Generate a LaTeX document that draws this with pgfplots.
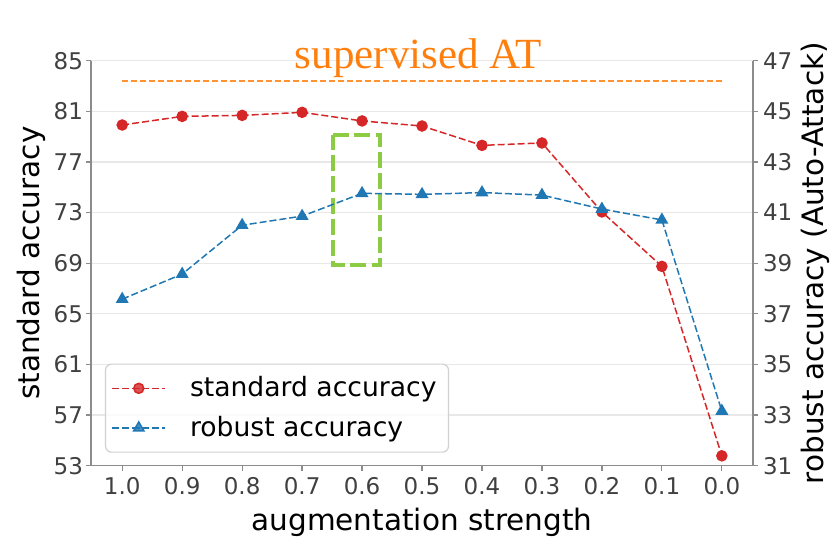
\documentclass[border=0pt]{standalone}
\usepackage{fontspec}
\setmainfont{DejaVu Sans}
\newfontfamily\seriffont{Liberation Serif}
\usepackage{pgfplots}
\pgfplotsset{compat=1.18}
\definecolor{tred}{HTML}{D62728}
\definecolor{tblue}{HTML}{1F77B4}
\definecolor{torange}{HTML}{FF7F0E}
\definecolor{tgreen}{HTML}{8CCC44}
\definecolor{spinec}{HTML}{8C8C8C}
\definecolor{ticktext}{HTML}{404040}
\definecolor{gridc}{HTML}{E8E8E8}
\pgfplotsset{
  base/.style={
    scale only axis, width=331pt, height=202.5pt,
    xmin=-0.52, xmax=10.52,
    xtick={0,1,2,3,4,5,6,7,8,9,10},
    xticklabels={1.0,0.9,0.8,0.7,0.6,0.5,0.4,0.3,0.2,0.1,0.0},
    tick align=outside, major tick length=2.5pt,
    tick style={spinec, line width=0.6pt},
    ticklabel style={font=\fontsize{11.5}{13}\selectfont, text=ticktext},
    /pgf/number format/assume math mode=true,
    axis line style={spinec, line width=0.6pt},
    clip=false,
  },
  redstyle/.style={tred, dash pattern=on 3.5pt off 1.5pt, line width=0.75pt, mark=*, mark size=2.5pt, mark options={solid, fill=tred}},
  bluestyle/.style={tblue, dash pattern=on 3.5pt off 1.5pt, line width=0.75pt, mark=triangle*, mark size=3pt, mark options={solid, fill=tblue}},
}
\begin{document}
\begin{tikzpicture}
\begin{axis}[base,
  axis y line*=left, axis x line*=bottom,
  ymin=53, ymax=85, ytick={53,57,61,65,69,73,77,81,85},
  yticklabel style={xshift=2pt},
  ymajorgrids, grid style={gridc, line width=0.6pt},
  xlabel={augmentation strength},
  ylabel={standard accuracy},
  every axis x label/.style={at={(rel axis cs:0.5,-0.1588)}, anchor=base, font=\fontsize{14.75}{17}\selectfont},
  every axis y label/.style={at={(rel axis cs:-0.0785,0.5)}, rotate=90, anchor=base, font=\fontsize{14.75}{17}\selectfont},
]
\coordinate (bbA) at (rel axis cs:-0.1375,-0.1983);
\coordinate (bbB) at (rel axis cs:1.1314,1.1499);
\addplot[torange, opacity=0.85, dash pattern=on 3pt off 1.5pt, line width=0.7pt, forget plot] coordinates {(0,83.4) (10,83.4)};
\addplot[redstyle] coordinates {
(0,79.92) (1,80.60) (2,80.68) (3,80.92) (4,80.24) (5,79.84) (6,78.31) (7,78.50) (8,73.05) (9,68.75) (10,53.78)};
\addplot[tgreen, line width=2pt, dash pattern=on 8pt off 2.6pt, line join=miter, forget plot] coordinates {
(3.52,79.13) (4.30,79.13) (4.30,68.83) (3.52,68.83) (3.52,79.13)};
\node[font=\seriffont\fontsize{21.5}{24}\selectfont, text=torange, anchor=base] at (rel axis cs:0.4947,0.981) {supervised AT};
\end{axis}
\begin{axis}[base,
  axis y line*=right, axis x line=none,
  ymin=31, ymax=47, ytick={31,33,35,37,39,41,43,45,47},
  yticklabel style={xshift=-1pt},
  ylabel={robust accuracy (Auto-Attack)},
  every axis y label/.style={at={(rel axis cs:1.1057,0.5)}, rotate=90, anchor=base, font=\fontsize{14.75}{17}\selectfont},
  legend cell align=left,
  legend image code/.code={\draw[mark repeat=2, mark phase=2] plot coordinates {(0pt,0pt) (13.25pt,0pt) (26.5pt,0pt)};},
  legend style={at={(rel axis cs:0.021,0.032)}, anchor=south west, draw=black!18, line width=0.6pt,
    rounded corners=3pt, fill=white, fill opacity=0.8, text opacity=1,
    font=\fontsize{13.3}{15}\selectfont, inner xsep=3pt, inner ysep=3.8pt, row sep=3.2pt,
    nodes={inner ysep=2.5pt, inner xsep=3pt},
    /tikz/every odd column/.append style={column sep=9pt}},
]
\addlegendimage{redstyle}
\addlegendentry{standard accuracy}
\addplot[bluestyle] coordinates {
(0,37.58) (1,38.57) (2,40.50) (3,40.86) (4,41.76) (5,41.72) (6,41.79) (7,41.69) (8,41.14) (9,40.71) (10,33.16)};
\addlegendentry{robust accuracy}
\end{axis}
\path (bbA) rectangle (bbB);
\end{tikzpicture}
\end{document}
